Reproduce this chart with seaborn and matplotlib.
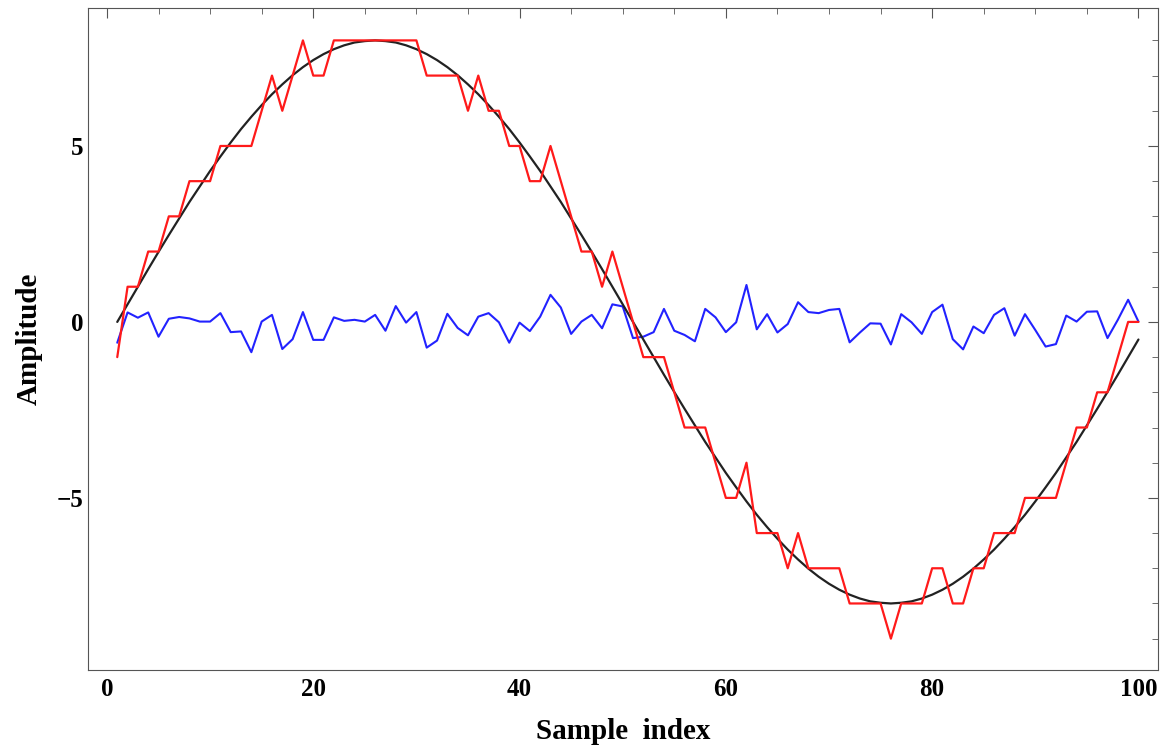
import pandas as pd
import matplotlib
matplotlib.use("Agg")
import matplotlib.pyplot as plt
from matplotlib.ticker import MultipleLocator
import seaborn as sns

# sample index
samples = list(range(1, 101))

# original signal (black)
signal = [0.00, 0.50, 1.00, 1.50, 1.99, 2.47, 2.94, 3.41, 3.85, 4.29,
          4.70, 5.10, 5.48, 5.83, 6.16, 6.47, 6.75, 7.01, 7.24, 7.44,
          7.61, 7.75, 7.86, 7.94, 7.98, 8.00, 7.98, 7.94, 7.86, 7.75,
          7.61, 7.44, 7.24, 7.01, 6.75, 6.47, 6.16, 5.83, 5.48, 5.10,
          4.70, 4.29, 3.85, 3.41, 2.94, 2.47, 1.99, 1.50, 1.00, 0.50,
          0.00, -0.50, -1.00, -1.50, -1.99, -2.47, -2.94, -3.41, -3.85, -4.29,
          -4.70, -5.10, -5.48, -5.83, -6.16, -6.47, -6.75, -7.01, -7.24, -7.44,
          -7.61, -7.75, -7.86, -7.94, -7.98, -8.00, -7.98, -7.94, -7.86, -7.75,
          -7.61, -7.44, -7.24, -7.01, -6.75, -6.47, -6.16, -5.83, -5.48, -5.10,
          -4.70, -4.29, -3.85, -3.41, -2.94, -2.47, -1.99, -1.50, -1.00, -0.50]

# quantized signal (red)
quantized = [-1, 1, 1, 2, 2, 3, 3, 4, 4, 4, 5, 5, 5, 5, 6, 7, 6, 7, 8, 7,
             7, 8, 8, 8, 8, 8, 8, 8, 8, 8, 7, 7, 7, 7, 6, 7, 6, 6, 5, 5,
             4, 4, 5, 4, 3, 2, 2, 1, 2, 1, 0, -1, -1, -1, -2, -3, -3, -3, -4, -5,
             -5, -4, -6, -6, -6, -7, -6, -7, -7, -7, -7, -8, -8, -8, -8, -9, -8, -8, -8, -7,
             -7, -8, -8, -7, -7, -6, -6, -6, -5, -5, -5, -5, -4, -3, -3, -2, -2, -1, 0, 0]

# noise (blue)
noise = [-0.59, 0.27, 0.12, 0.27, -0.42, 0.09, 0.14, 0.10, 0.01, 0.01,
         0.25, -0.29, -0.27, -0.86, 0.01, 0.20, -0.77, -0.49, 0.28, -0.51,
         -0.51, 0.13, 0.03, 0.06, 0.01, 0.20, -0.25, 0.45, -0.02, 0.28,
         -0.73, -0.53, 0.23, -0.17, -0.38, 0.15, 0.25, -0.01, -0.59, -0.02,
         -0.26, 0.15, 0.77, 0.41, -0.34, 0.01, 0.20, -0.18, 0.50, 0.44,
         -0.46, -0.42, -0.29, 0.37, -0.25, -0.37, -0.55, 0.37, 0.13, -0.29,
         -0.01, 1.05, -0.21, 0.22, -0.30, -0.06, 0.56, 0.28, 0.25, 0.34,
         0.37, -0.58, -0.30, -0.04, -0.05, -0.64, 0.22, -0.01, -0.34, 0.28,
         0.49, -0.49, -0.78, -0.13, -0.32, 0.20, 0.39, -0.39, 0.22, -0.23,
         -0.70, -0.63, 0.18, 0.01, 0.29, 0.30, -0.46, 0.06, 0.63, 0.01]

df = pd.DataFrame({'x': samples, 'signal': signal,
                   'quantized': quantized, 'noise': noise})

sns.set_style("white")
plt.rcParams['font.family'] = ['Liberation Serif', 'DejaVu Serif']
plt.rcParams['axes.unicode_minus'] = True

fig = plt.figure(figsize=(11.62, 7.49), dpi=100)
ax = fig.add_axes([0.0757, 0.1055, 0.9209, 0.8838])

sns.lineplot(data=df, x='x', y='noise', color='#2222ff', linewidth=1.5, ax=ax)
sns.lineplot(data=df, x='x', y='signal', color='#222222', linewidth=1.6, ax=ax)
sns.lineplot(data=df, x='x', y='quantized', color='#ff1a1a', linewidth=1.6, ax=ax)

ax.set_xlim(-1.84, 101.9)
ax.set_ylim(-9.89, 8.92)

ax.xaxis.set_major_locator(MultipleLocator(20))
ax.xaxis.set_minor_locator(MultipleLocator(5))
ax.yaxis.set_major_locator(MultipleLocator(5))
ax.yaxis.set_minor_locator(MultipleLocator(1))

ax.tick_params(which='both', direction='in', top=True, right=True,
               color='#555555', labelcolor='black')
ax.tick_params(which='major', length=7, width=0.8, labelsize=18)
ax.tick_params(axis='x', which='major', pad=6)
ax.tick_params(axis='y', which='major', pad=3)
ax.tick_params(which='minor', length=4, width=0.6)
for lab in ax.get_xticklabels() + ax.get_yticklabels():
    lab.set_fontweight('bold')

for sp in ax.spines.values():
    sp.set_color('#555555')
    sp.set_linewidth(0.8)

ax.set_xlabel('Sample  index', fontsize=21, fontweight='bold', labelpad=12,
              color='black')
ax.set_ylabel('Amplitude', fontsize=21, fontweight='bold', labelpad=10,
              color='black')

fig.savefig('out.png', dpi=100)
